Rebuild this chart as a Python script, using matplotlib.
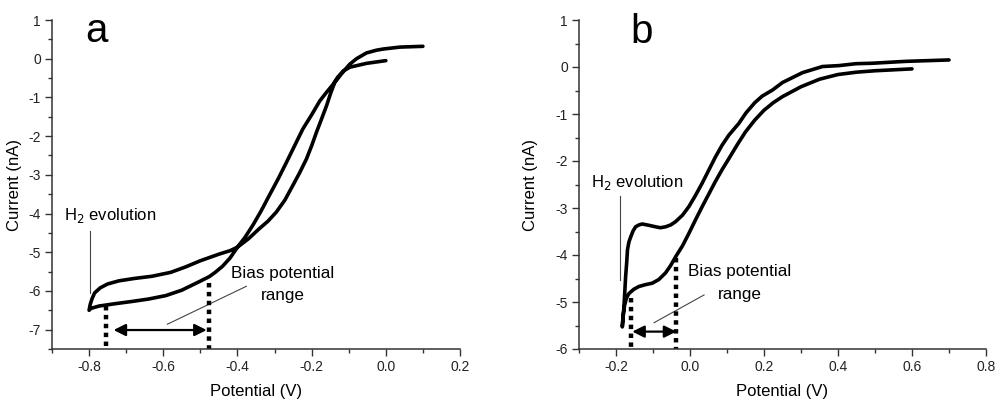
import matplotlib
matplotlib.use("Agg")
import matplotlib.pyplot as plt
from matplotlib.ticker import MultipleLocator

plt.rcParams['font.family'] = ['Liberation Sans', 'DejaVu Sans']
plt.rcParams['axes.unicode_minus'] = False

# ---------------- data: panel a ----------------
a_potential = [0.00, -0.052, -0.097, -0.115, -0.13, -0.142, -0.16, -0.178, -0.20, -0.224, -0.246,
               -0.268, -0.29, -0.314, -0.336, -0.359, -0.38, -0.40,
               -0.42, -0.44, -0.46, -0.476, -0.503, -0.55, -0.593, -0.64, -0.683, -0.73, -0.773,
               -0.795, -0.80,
               -0.797, -0.792, -0.785, -0.77, -0.75, -0.72, -0.68, -0.63, -0.58, -0.54, -0.50,
               -0.45, -0.42, -0.40,
               -0.37, -0.341, -0.318, -0.295, -0.272, -0.251, -0.232, -0.214, -0.200, -0.187,
               -0.173, -0.160, -0.149, -0.138, -0.122, -0.108, -0.097, -0.079, -0.052, -0.025,
               -0.007, 0.038, 0.10]
a_current = [-0.05, -0.12, -0.22, -0.32, -0.48, -0.66, -0.87, -1.09, -1.45, -1.82, -2.25,
             -2.68, -3.10, -3.53, -3.93, -4.31, -4.62, -4.87,
             -5.15, -5.36, -5.52, -5.63, -5.76, -5.98, -6.12, -6.21, -6.27, -6.33, -6.39,
             -6.45, -6.50,
             -6.35, -6.20, -6.05, -5.92, -5.82, -5.74, -5.68, -5.62, -5.52, -5.38, -5.22,
             -5.05, -4.96, -4.87,
             -4.65, -4.39, -4.20, -3.96, -3.65, -3.28, -2.94, -2.59, -2.25, -1.90,
             -1.55, -1.22, -0.90, -0.62, -0.42, -0.26, -0.14, 0.00, 0.15, 0.22,
             0.25, 0.30, 0.32]

a_bias_lo, a_bias_hi = -0.754, -0.476
a_bias_top_lo, a_bias_top_hi = -6.40, -5.80
a_arrow_y = -7.01

# ---------------- data: panel b ----------------
b_potential = [0.60, 0.50, 0.45, 0.40, 0.35, 0.30, 0.25, 0.225, 0.20, 0.175, 0.15, 0.128, 0.105,
               0.087, 0.069, 0.051, 0.033, 0.015, -0.003, -0.02, -0.039, -0.052, -0.066, -0.084,
               -0.102, -0.12, -0.138, -0.152, -0.165, -0.172, -0.177, -0.181, -0.183,
               -0.180, -0.178, -0.176, -0.174, -0.171, -0.169, -0.165, -0.160, -0.154, -0.147,
               -0.138, -0.129, -0.11, -0.093, -0.08, -0.066, -0.052, -0.039, -0.02, -0.003,
               0.015, 0.033, 0.051, 0.069, 0.087, 0.105, 0.132, 0.151, 0.175, 0.195, 0.223,
               0.25, 0.304, 0.358, 0.403, 0.448, 0.493, 0.583, 0.70]
b_current = [-0.04, -0.08, -0.11, -0.16, -0.26, -0.42, -0.63, -0.76, -0.92, -1.13, -1.38, -1.65, -1.95,
             -2.18, -2.43, -2.70, -2.97, -3.25, -3.54, -3.80, -4.04, -4.22, -4.38, -4.52,
             -4.60, -4.63, -4.67, -4.73, -4.82, -4.92, -5.08, -5.30, -5.53,
             -5.25, -5.03, -4.75, -4.46, -4.15, -3.89, -3.72, -3.61, -3.49, -3.40,
             -3.36, -3.34, -3.37, -3.40, -3.42, -3.40, -3.36, -3.29, -3.15, -2.97,
             -2.73, -2.47, -2.19, -1.91, -1.66, -1.45, -1.20, -0.98, -0.76, -0.62, -0.49,
             -0.33, -0.12, 0.01, 0.03, 0.07, 0.08, 0.12, 0.15]

b_bias_lo, b_bias_hi = -0.160, -0.038
b_bias_top_lo, b_bias_top_hi = -4.91, -4.07
b_arrow_y = -5.63

# ---------------- figure ----------------
fig = plt.figure(figsize=(9.96, 4.0), dpi=100)
ax_a = fig.add_axes([52/996, 1-349/400, 408/996, 329/400])
ax_b = fig.add_axes([579/996, 1-349/400, 407/996, 329/400])

spine_c = '#333333'
for ax in (ax_a, ax_b):
    for s in ('top', 'right'):
        ax.spines[s].set_visible(False)
    for s in ('left', 'bottom'):
        ax.spines[s].set_color(spine_c)
        ax.spines[s].set_linewidth(1.1)
    ax.tick_params(which='major', direction='out', length=5, width=1.0, color=spine_c,
                   labelsize=10, labelcolor='#222222', pad=3)
    ax.tick_params(which='minor', direction='out', length=3, width=1.0, color=spine_c)
    ax.set_xlabel('Potential (V)', fontsize=12, labelpad=7)
    ax.set_ylabel('Current (nA)', fontsize=12)
    ax.xaxis.set_minor_locator(MultipleLocator(0.1))
    ax.xaxis.set_major_locator(MultipleLocator(0.2))
    ax.yaxis.set_major_locator(MultipleLocator(1))
    ax.yaxis.set_minor_locator(MultipleLocator(0.5))

arrow_props = dict(arrowstyle='<|-|>', color='black', lw=1.6,
                   mutation_scale=18, shrinkA=0, shrinkB=0)
dot_kw = dict(color='black', lw=3.2, linestyle=(0, (1, 1)), dash_capstyle='butt', clip_on=False)

# panel a
ax_a.set_xlim(-0.9, 0.2)
ax_a.set_ylim(-7.5, 1)
ax_a.plot(a_potential, a_current, color='black', lw=2.6, solid_joinstyle='round', solid_capstyle='round')
ax_a.set_xticks([-0.8, -0.6, -0.4, -0.2, 0.0, 0.2])
ax_a.set_xticklabels(['-0.8', '-0.6', '-0.4', '-0.2', '0.0', '0.2'])
ax_a.set_yticks(range(-7, 2))
ax_a.yaxis.set_label_coords(-0.074, 0.5)
ax_a.text(-0.81, 0.42, 'a', fontsize=29, ha='left', va='baseline')
ax_a.text(-0.867, -4.06, 'H$_2$ evolution', fontsize=12, ha='left', va='center')
ax_a.plot([-0.797, -0.797], [-4.44, -6.06], color='#444444', lw=0.8)
ax_a.text(-0.278, -5.55, 'Bias potential', fontsize=12.3, ha='center', va='center')
ax_a.text(-0.278, -6.11, 'range', fontsize=12.3, ha='center', va='center')
ax_a.plot([-0.376, -0.589], [-5.88, -6.86], color='#444444', lw=0.8)
ax_a.plot([a_bias_lo, a_bias_lo], [a_bias_top_lo, -7.5], **dot_kw)
ax_a.plot([a_bias_hi, a_bias_hi], [a_bias_top_hi, -7.5], **dot_kw)
ax_a.annotate('', xy=(a_bias_lo + 0.02, a_arrow_y), xytext=(a_bias_hi - 0.007, a_arrow_y),
              arrowprops=arrow_props)

# panel b
ax_b.set_xlim(-0.3, 0.8)
ax_b.set_ylim(-6, 1)
ax_b.plot(b_potential, b_current, color='black', lw=2.6, solid_joinstyle='round', solid_capstyle='round')
ax_b.set_xticks([-0.2, 0.0, 0.2, 0.4, 0.6, 0.8])
ax_b.set_xticklabels(['-0.2', '0.0', '0.2', '0.4', '0.6', '0.8'])
ax_b.set_yticks(range(-6, 2))
ax_b.yaxis.set_label_coords(-0.10, 0.5)
ax_b.text(-0.16, 0.51, 'b', fontsize=29, ha='left', va='baseline')
ax_b.text(-0.267, -2.45, 'H$_2$ evolution', fontsize=12, ha='left', va='center')
ax_b.plot([-0.19, -0.19], [-2.74, -4.53], color='#444444', lw=0.8)
ax_b.text(0.135, -4.36, 'Bias potential', fontsize=12.3, ha='center', va='center')
ax_b.text(0.135, -4.85, 'range', fontsize=12.3, ha='center', va='center')
ax_b.plot([0.038, -0.097], [-4.85, -5.44], color='#444444', lw=0.8)
ax_b.plot([b_bias_lo, b_bias_lo], [b_bias_top_lo, -6], **dot_kw)
ax_b.plot([b_bias_hi, b_bias_hi], [b_bias_top_hi, -6], **dot_kw)
ax_b.annotate('', xy=(b_bias_lo + 0.004, b_arrow_y), xytext=(b_bias_hi + 0.001, b_arrow_y),
              arrowprops=arrow_props)

fig.savefig('out.png', dpi=100)
